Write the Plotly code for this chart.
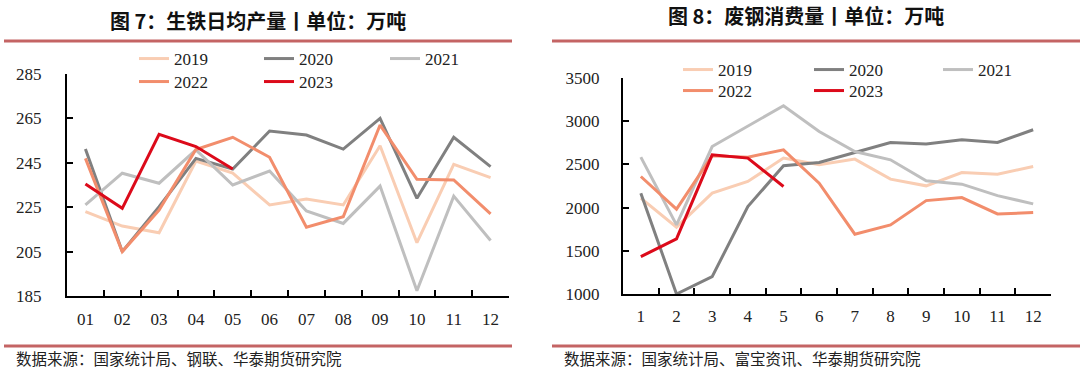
import plotly.graph_objects as go

# ---------------- data ----------------
months_left = ["01", "02", "03", "04", "05", "06", "07", "08", "09", "10", "11", "12"]
months_right = ["1", "2", "3", "4", "5", "6", "7", "8", "9", "10", "11", "12"]
years = ["2019", "2020", "2021", "2022", "2023"]

# 图7 生铁日均产量（万吨）
pig_2019 = [223, 216.5, 213.5, 245.8, 240.4, 226, 228.7, 226, 252.7, 209, 244.3, 238.3]
pig_2020 = [251.2, 205, 225.2, 247, 242.2, 259.3, 257.5, 251.2, 265, 229, 256.5, 243.3]
pig_2021 = [226, 240.3, 235.8, 250.8, 235, 241.3, 223.3, 217.7, 234.5, 187.4, 230, 210]
pig_2022 = [247, 205, 223.7, 251, 256.5, 247.5, 216, 220.7, 262, 237.6, 237.3, 222]
pig_2023 = [235.5, 224.5, 257.8, 252.3, 242.2]

# 图8 废钢消费量（万吨）
scrap_2019 = [2109, 1773, 2167, 2302, 2573, 2495, 2561, 2329, 2252, 2406, 2387, 2475]
scrap_2020 = [2167, 1000, 1201, 2012, 2484, 2522, 2638, 2754, 2735, 2785, 2754, 2901]
scrap_2021 = [2584, 1800, 2707, 2947, 3179, 2881, 2649, 2553, 2310, 2271, 2139, 2043]
scrap_2022 = [2360, 1982, 2600, 2584, 2669, 2283, 1692, 1800, 2081, 2116, 1927, 1942]
scrap_2023 = [1432, 1637, 2611, 2573, 2244]

left_series = [pig_2019, pig_2020, pig_2021, pig_2022, pig_2023]
right_series = [scrap_2019, scrap_2020, scrap_2021, scrap_2022, scrap_2023]

colors = ["#F9CDB3", "#808080", "#BFBFBF", "#F28D6C", "#DC0A1A"]

W, H = 1080, 370
RED = "#C46464"
SERIF = "Liberation Serif"
CJK = "Noto Sans CJK SC"


def px_x(p):
    return p / W


def px_y(p):
    return 1 - p / H


# legend text start positions (px) for each year: (x, y)
left_leg_pos = [(174, 59), (299, 59), (425, 59), (174, 82), (299, 82)]
right_leg_pos = [(718, 70), (849, 70), (978, 70), (718, 91), (849, 91)]

fig = go.Figure()
legend_layout = {}
k = 0
for series, months, xa, ya, pos in [
        (left_series, months_left, "x", "y", left_leg_pos),
        (right_series, months_right, "x2", "y2", right_leg_pos)]:
    for yr, vals, col, (tx, ty) in zip(years, series, colors, pos):
        k += 1
        lid = "legend" if k == 1 else f"legend{k}"
        fig.add_trace(go.Scatter(
            x=months[:len(vals)], y=vals, mode="lines", name=yr, showlegend=True,
            line=dict(color=col, width=3), xaxis=xa, yaxis=ya, legend=lid))
        legend_layout[lid] = dict(
            x=px_x(tx - 40), y=px_y(ty), xanchor="left", yanchor="middle",
            orientation="h", bgcolor="rgba(0,0,0,0)", borderwidth=0, visible=True,
            font=dict(family=SERIF, size=17, color="#222"))

axis_common = dict(showline=True, linecolor="black", linewidth=2, showgrid=False,
                   zeroline=False, ticks="inside", ticklen=6, tickwidth=2,
                   tickcolor="black",
                   tickfont=dict(family=SERIF, size=17, color="#222"))

fig.update_layout(
    width=W, height=H, margin=dict(l=0, r=0, t=0, b=0, autoexpand=False),
    showlegend=True,
    paper_bgcolor="white", plot_bgcolor="white",
    xaxis=dict(domain=[px_x(67), px_x(509)], type="category", anchor="y",
               tickson="boundaries", ticklabelstandoff=7, range=[-0.5, 11.5],
               **axis_common),
    yaxis=dict(domain=[px_y(296), px_y(74)], range=[185, 285], tick0=185, dtick=20,
               anchor="x", ticklabelstandoff=20, **axis_common),
    xaxis2=dict(domain=[px_x(623), px_x(1051)], type="category", anchor="y2",
                tickson="boundaries", ticklabelstandoff=6, range=[-0.5, 11.5],
                **axis_common),
    yaxis2=dict(domain=[px_y(294), px_y(78)], range=[1000, 3500], tick0=1000, dtick=500,
                anchor="x2", ticklabelstandoff=18, **axis_common),
    **legend_layout,
)

# titles
fig.add_annotation(text="<b>图 7：生铁日均产量丨单位：万吨</b>", x=px_x(258), y=px_y(20),
                   xref="paper", yref="paper", showarrow=False, xanchor="center",
                   yanchor="middle", font=dict(family=CJK, size=20, color="#111"))
fig.add_annotation(text="<b>图 8：废钢消费量丨单位：万吨</b>", x=px_x(806), y=px_y(15),
                   xref="paper", yref="paper", showarrow=False, xanchor="center",
                   yanchor="middle", font=dict(family=CJK, size=20, color="#111"))

# sources
fig.add_annotation(text="数据来源：国家统计局、钢联、华泰期货研究院", x=px_x(14), y=px_y(358),
                   xref="paper", yref="paper", showarrow=False, xanchor="left",
                   yanchor="middle", font=dict(family=CJK, size=15.5, color="#222"))
fig.add_annotation(text="数据来源：国家统计局、富宝资讯、华泰期货研究院", x=px_x(562), y=px_y(358),
                   xref="paper", yref="paper", showarrow=False, xanchor="left",
                   yanchor="middle", font=dict(family=CJK, size=15.5, color="#222"))

# red rules
for x0, x1 in [(4, 512), (552, 1080)]:
    for yy in (41, 346):
        fig.add_shape(type="line", xref="paper", yref="paper",
                      x0=px_x(x0), x1=px_x(x1), y0=px_y(yy), y1=px_y(yy),
                      line=dict(color=RED, width=3))

fig.write_html("out.html", config={"displayModeBar": False},
               post_script="document.body.style.margin='0';document.body.style.overflow='hidden';")
